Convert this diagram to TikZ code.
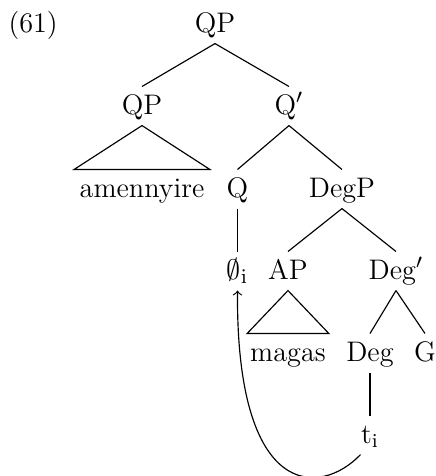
\documentclass[tikz,border=0pt]{standalone}
\usepackage{amssymb}
\begin{document}
\begin{tikzpicture}[x=0.389pt,y=-0.389pt,
  tn/.style={anchor=base, inner sep=0pt, text height=10.5pt, text depth=4.3pt, font=\fontsize{11}{13}\selectfont},
  br/.style={line width=0.45pt},
]
\useasboundingbox (0,0) rectangle (435,476);
\node[tn, anchor=base west] (ex) at (8,32) {(61)};
% row 1
\node[tn] (qp) at (215,32) {QP};
% row 2
\node[tn] (qp2) at (142,114) {QP};
\node[tn] (qbar) at (289,114) {Q$'$};
% row 3
\node[tn] (amen) at (142,197) {amennyire};
\node[tn] (q) at (237.5,197) {Q};
\node[tn] (degp) at (342,197) {DegP};
% row 4
\node[tn] (phi) at (237.5,279) {$\emptyset_{\mathrm{i}}$};
\node[tn] (ap) at (288,279) {AP};
\node[tn] (degbar) at (396,279) {Deg$'$};
% row 5
\node[tn] (magas) at (288,361) {magas};
\node[tn] (deg) at (370,361) {Deg};
\node[tn] (g) at (425,361) {G};
% row 6
\node[tn] (ti) at (370,443) {t\textsubscript{i}};
% branches
\draw[br] (qp.south) -- (qp2.north);
\draw[br] (qp.south) -- (qbar.north);
\draw[br] (qp2.south) -- ([xshift=-2]amen.north west) -- ([xshift=2]amen.north east) -- cycle;
\draw[br] (qbar.south) -- (q.north);
\draw[br] (qbar.south) -- (degp.north);
\draw[br] (q.south) -- (phi.north);
\draw[br] (degp.south) -- (ap.north);
\draw[br] (degp.south) -- (degbar.north);
\draw[br] (ap.south) -- ([xshift=-1]magas.north west) -- ([xshift=1]magas.north east) -- cycle;
\draw[br] (degbar.south) -- (deg.north);
\draw[br] (degbar.south) -- (g.north);
\draw[br] (deg.south) -- (ti.north);
% movement arrow
\draw[br,->] (ti.south west) .. controls (320,497) and (236,500) .. (phi.south);
\end{tikzpicture}
\end{document}
